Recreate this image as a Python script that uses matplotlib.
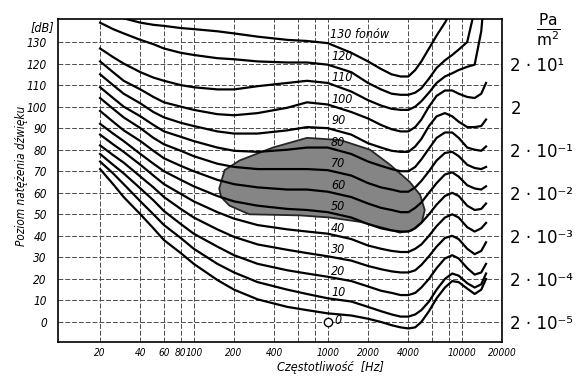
import numpy as np
import matplotlib.pyplot as plt

freqs = [20, 25, 30, 40, 50, 60, 80, 100, 150, 200, 300, 500, 700, 1000, 1500,
         2000, 2500, 3000, 3500, 4000, 4500, 5000, 5700, 6500, 7500, 8500, 9500,
         11000, 12500, 14000, 15200]

# sound pressure level (dB) of each equal-loudness contour (phon)
l0 = [71, 64, 58, 50, 43.5, 38, 32, 27, 19.5, 15, 10.5, 7, 5.5, 4, 3,
      1.5, 0, -1.5, -2.5, -3, -2.5, 0, 5, 11, 16, 19, 18.5, 15.5, 13, 15, 20]
l10 = [74.5, 69, 64, 56, 50, 45, 39, 34, 27, 23, 18.5, 15, 13, 11, 9.5,
       7, 5, 3.5, 2.5, 2.5, 3.5, 5.5, 9.5, 15, 20, 22.5, 21.5, 18, 16, 17.5, 22.5]
l20 = [78, 73, 69, 62, 56.5, 51.5, 45.5, 41, 35, 31, 27, 24, 22.5, 21, 19,
       16.5, 14.5, 13.5, 12.5, 12.5, 13.5, 16, 20, 25, 29.5, 31, 29.5, 25, 22, 23, 27]
l30 = [82, 77.5, 74, 67.5, 62.5, 58, 52.5, 48.5, 43, 39.5, 36, 33.5, 32, 30.5, 28.5,
       26, 24.5, 23.5, 23, 23, 24, 26.5, 30.5, 35, 39, 40, 38.5, 34, 31.5, 33, 37]
l40 = [87, 82.5, 79, 73, 68, 64, 59.5, 56, 51, 48, 45, 43, 42, 41, 38.5,
       35.5, 34, 33, 32.5, 32.5, 34, 36, 40, 44.5, 48.5, 50, 48.5, 44, 42, 43.5, 46]
l50 = [92, 87.5, 84, 78, 73.5, 70, 66, 63, 58.5, 56, 54, 52.5, 52, 51, 48.5,
       45.5, 43.5, 42.5, 42, 42, 43.5, 46, 50, 54.5, 58.5, 60, 58.5, 54, 52, 52.5, 55]
l60 = [98, 93, 89, 84, 79.5, 76, 72.5, 70, 66, 64, 62.5, 61.5, 61.5, 60.5, 58,
       55, 53, 52, 51, 51, 53, 55.5, 60, 64.5, 68.5, 69.5, 67.5, 63.5, 62, 61.5, 63]
l70 = [104, 99, 95, 90, 85.5, 82.5, 79.5, 77, 73.5, 72, 71, 71, 71, 70.5, 68,
       64.5, 62.5, 61.5, 60.5, 60.5, 62.5, 65.5, 70, 75, 78.5, 79, 77, 73, 71.5, 71, 72]
l80 = [109, 104, 100, 95.5, 91.5, 88.5, 86, 84, 81, 79.5, 79, 80, 81, 81, 78,
       74.5, 72.5, 71, 70, 70, 72, 75.5, 80.5, 85.5, 88, 88, 85.5, 81, 80, 79.5, 81.5]
l90 = [115, 110, 106, 101.5, 97.5, 95, 92.5, 91, 88.5, 87.5, 87.5, 89, 90.5, 90, 87,
       83, 81, 79.5, 79, 79, 81.5, 85, 91, 95.5, 97, 95.5, 93, 90.5, 90.5, 91, 94]
l100 = [121, 116, 112, 108, 104.5, 102, 100, 98.5, 96.5, 96, 97, 99.5, 102, 101, 97.5,
        94.5, 91.5, 89.5, 88.5, 88.5, 90.5, 94, 100, 105, 107.5, 107.5, 106, 104.5, 104, 106, 111]
l110 = [127, 123, 120, 116, 113.5, 112, 110, 109, 108, 108, 109.5, 111, 112, 111, 107,
        103, 100.5, 99, 98.5, 98.5, 100, 102.5, 106.5, 111, 114, 115.5, 117, 118.5, 119.5, 135, 160]
l120 = [139, 136, 134, 131, 129, 127, 125, 124, 122.5, 122, 121, 120.5, 120.5, 119.5, 116,
        111, 108, 106, 105.5, 105.5, 106.5, 108.5, 113, 118, 121.5, 124, 126.5, 130, 145, 160, 170]
l130 = [150, 145, 141, 139, 138, 137.5, 136.5, 136, 135, 134, 132.5, 131, 130.5, 129.5, 125,
        121, 117.5, 115, 114, 114, 117, 121, 127, 133, 139, 145, 152, 160, 170, 180, 190]

phons = [0, 10, 20, 30, 40, 50, 60, 70, 80, 90, 100, 110, 120, 130]
curves = [l0, l10, l20, l30, l40, l50, l60, l70, l80, l90, l100, l110, l120, l130]

# shaded area (speech / music region)
blob_f = [155, 170, 220, 390, 700, 1240, 2070, 2920, 4100, 4900, 5300, 5050,
          4250, 3450, 2680, 1740, 1040, 620, 260, 185, 160]
blob_db = [62, 70.5, 75, 81, 85.5, 84.5, 80, 73, 65, 59, 52, 46.5,
           42.5, 41.5, 43.5, 46.5, 48.5, 49.5, 50, 54, 58]

xticks = [20, 40, 60, 80, 100, 200, 400, 1000, 2000, 4000, 10000, 20000]
xgrid_extra = [600, 800, 6000, 8000]
yticks = list(range(0, 140, 10))
pa_db = [120, 100, 80, 60, 40, 20, 0]
pa_labels = ['2 · 10¹', '2', '2 · 10⁻¹', '2 · 10⁻²', '2 · 10⁻³', '2 · 10⁻⁴', '2 · 10⁻⁵']

small = dict(family='DejaVu Sans', stretch='condensed', style='italic')

fig = plt.figure(figsize=(5.77, 3.76), dpi=100)
ax = fig.add_axes([58 / 577, 34 / 376, 444 / 577, 323 / 376])
ax.set_xscale('log')
ax.set_xlim(9.7, 20000)
ax.set_ylim(-9.3, 140.7)

ax.set_xticks(xticks)
ax.set_xticklabels([str(v) for v in xticks], fontsize=7.2, **small)
ax.set_xticks(xgrid_extra, minor=True)
ax.set_yticks(yticks)
ax.set_yticklabels([str(v) for v in yticks], fontsize=8.5, **small)
ax.tick_params(which='both', length=0)
ax.tick_params(axis='x', pad=4)
ax.tick_params(axis='y', pad=8)
ax.grid(which='both', color='0.3', lw=0.7, ls=(0, (5, 2)))
for s in ax.spines.values():
    s.set_linewidth(1.2)

ax.fill(blob_f, blob_db, facecolor='0.52', edgecolor='0.15', lw=1.3, zorder=2)

for p, vals in zip(phons, curves):
    ax.plot(freqs, vals, color='black', lw=1.6, zorder=3, solid_joinstyle='round')
    if p == 0:
        ax.plot([1000], [0], marker='o', mfc='white', mec='black', ms=6, zorder=4)
        ax.text(1120, 0.5, '0', fontsize=9, va='center', zorder=5, **small)
    elif p == 130:
        ax.text(1040, p + 3.5, '130 fonów', fontsize=9, va='center', zorder=5, **small)
    else:
        ax.text(1060, p + 3.5, str(p), fontsize=9, va='center', zorder=5, **small)

ax2 = ax.twinx()
ax2.set_ylim(ax.get_ylim())
ax2.set_yticks(pa_db)
ax2.set_yticklabels(pa_labels, fontsize=12)
ax2.tick_params(length=0, pad=6)
for s in ax2.spines.values():
    s.set_visible(False)

fig.text(0.95, 0.92, r'$\frac{\mathrm{Pa}}{\mathrm{m^2}}$', fontsize=16, ha='center', va='center')
fig.text(42 / 577, 1 - 28 / 376, '[dB]', fontsize=9, ha='center', va='center', **small)
fig.text(22 / 577, 1 - 176 / 376, 'Poziom natężenia dźwięku', rotation=90,
         fontsize=8.5, ha='center', va='center', **small)
fig.text(330 / 577, 1 - 367 / 376, 'Częstotliwość  [Hz]', fontsize=9,
         ha='center', va='center', **small)

fig.savefig('out.png', dpi=100)
